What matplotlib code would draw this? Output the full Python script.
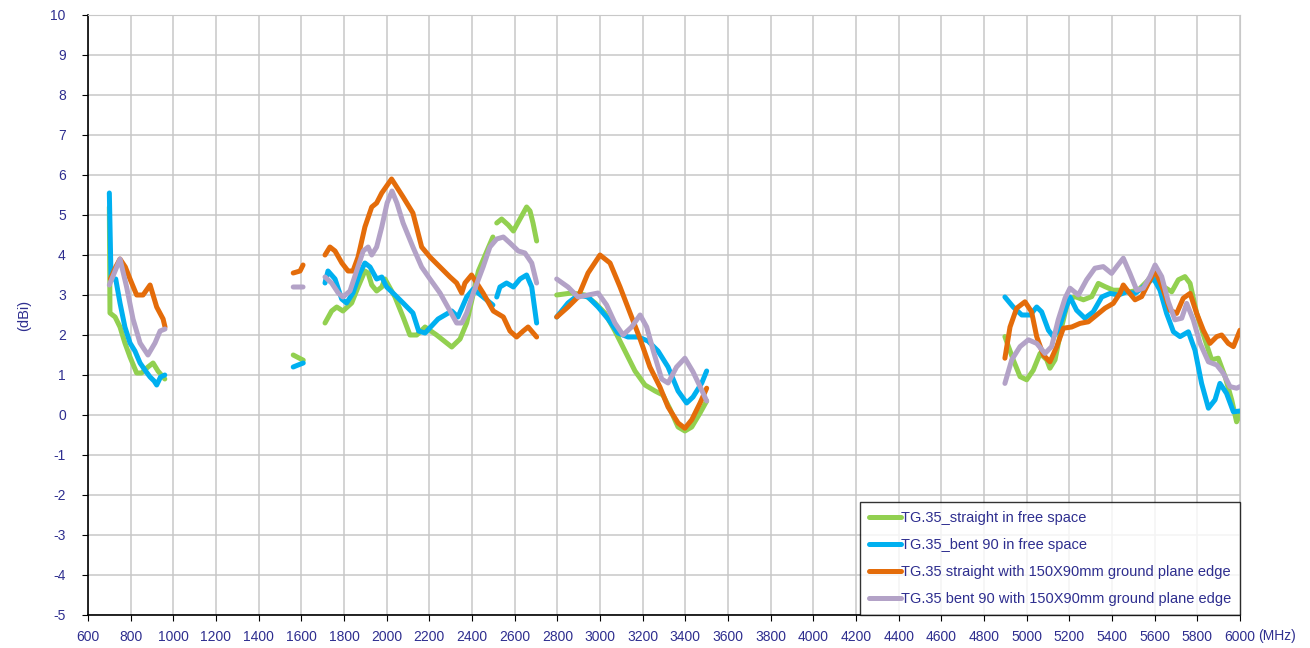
import numpy as np
import matplotlib
matplotlib.use("Agg")
import matplotlib.pyplot as plt

# gain vs frequency, 4 antenna setups; nan = gap between bands
nan = np.nan

green_f = [700, 703, 727, 750, 773, 797, 828, 851, 881, 905, 928, 960, nan,
           1562, 1609, nan,
           1711, 1742, 1766, 1795, 1836, 1866, 1898, 1913, 1930, 1953, 1977, 1992, 2039, 2077,
           2109, 2141, 2180, 2234, 2305, 2344, 2375, 2430, 2498, nan,
           2516, 2539, 2570, 2594, 2625, 2656, 2672, 2686, 2703, nan,
           2797, 2867, 2930, 2977, 3023, 3070, 3117, 3164, 3211, 3258, 3295, 3328, 3366, 3398,
           3430, 3469, 3500, nan,
           4898, 4937, 4969, 5000, 5031, 5063, 5094, 5109, 5133, 5164, 5195, 5227, 5266, 5305,
           5336, 5367, 5406, 5445, 5484, 5523, 5562, 5602, 5641, 5680, 5711, 5742, 5766, 5797,
           5836, 5867, 5898, 5930, 5961, 5984, 6000]
green_g = [5.2, 2.55, 2.45, 2.2, 1.8, 1.45, 1.05, 1.05, 1.2, 1.3, 1.1, 0.9, nan,
           1.5, 1.37, nan,
           2.3, 2.6, 2.7, 2.6, 2.8, 3.2, 3.6, 3.55, 3.25, 3.1, 3.2, 3.4, 2.95, 2.45,
           2.0, 2.0, 2.2, 2.0, 1.7, 1.9, 2.3, 3.6, 4.45, nan,
           4.8, 4.9, 4.75, 4.6, 4.9, 5.2, 5.1, 4.8, 4.35, nan,
           3.0, 3.05, 3.0, 2.8, 2.55, 2.1, 1.6, 1.1, 0.75, 0.6, 0.5, 0.15, -0.3, -0.4,
           -0.3, 0.05, 0.35, nan,
           1.96, 1.38, 0.96, 0.88, 1.12, 1.54, 1.38, 1.17, 1.38, 2.2, 2.88, 2.96, 2.88, 2.96,
           3.29, 3.21, 3.12, 3.12, 3.08, 3.12, 3.33, 3.58, 3.21, 3.08, 3.38, 3.46, 3.29, 2.54,
           1.88, 1.38, 1.42, 0.96, 0.38, -0.17, 0.02]

cyan_f = [700, 708, 730, 750, 773, 797, 820, 844, 870, 891, 910, 922, 940, 960, nan,
          1562, 1585, 1609, nan,
          1711, 1725, 1758, 1789, 1812, 1842, 1875, 1898, 1922, 1953, 1977, 2000, 2039, 2077,
          2123, 2150, 2180, 2241, 2305, 2334, 2375, 2406, 2452, 2498, nan,
          2516, 2531, 2562, 2594, 2625, 2656, 2680, 2703, nan,
          2797, 2850, 2897, 2944, 2991, 3038, 3084, 3131, 3178, 3225, 3272, 3319, 3366, 3406,
          3436, 3477, 3500, nan,
          4898, 4937, 4977, 5016, 5047, 5070, 5102, 5125, 5148, 5180, 5203, 5234, 5273, 5312,
          5352, 5391, 5430, 5469, 5508, 5547, 5594, 5625, 5656, 5688, 5719, 5758, 5789, 5820,
          5852, 5883, 5906, 5937, 5969, 6000]
cyan_g = [5.55, 3.4, 3.4, 2.8, 2.2, 1.8, 1.6, 1.3, 1.1, 0.95, 0.85, 0.75, 0.95, 1.0, nan,
          1.2, 1.25, 1.3, nan,
          3.3, 3.6, 3.4, 2.9, 2.8, 3.05, 3.55, 3.8, 3.7, 3.4, 3.45, 3.2, 3.0, 2.8,
          2.55, 2.1, 2.05, 2.4, 2.6, 2.45, 2.95, 3.15, 2.95, 2.75, nan,
          2.95, 3.2, 3.3, 3.2, 3.4, 3.5, 3.2, 2.3, nan,
          2.45, 2.8, 3.0, 2.95, 2.7, 2.4, 2.05, 1.95, 1.95, 1.85, 1.6, 1.2, 0.6, 0.3,
          0.45, 0.8, 1.1, nan,
          2.95, 2.7, 2.5, 2.5, 2.7, 2.58, 2.12, 1.96, 2.12, 2.62, 2.95, 2.62, 2.42, 2.58,
          2.95, 3.04, 3.0, 3.08, 3.04, 3.2, 3.42, 3.12, 2.54, 2.08, 1.96, 2.08, 1.62, 0.79,
          0.17, 0.38, 0.79, 0.54, 0.08, 0.1]

orange_f = [705, 730, 750, 775, 797, 828, 858, 891, 922, 952, 961, nan,
            1562, 1594, 1608, nan,
            1711, 1734, 1758, 1790, 1819, 1842, 1866, 1898, 1930, 1953, 1977, 2023, 2077, 2123,
            2164, 2203, 2250, 2297, 2328, 2352, 2367, 2398, 2452, 2500, 2547, 2578, 2609, 2640,
            2663, 2703, nan,
            2797, 2850, 2897, 2944, 3000, 3047, 3094, 3141, 3188, 3234, 3281, 3319, 3366, 3398,
            3430, 3469, 3500, nan,
            4898, 4922, 4953, 4992, 5023, 5047, 5078, 5109, 5141, 5172, 5211, 5250, 5289, 5328,
            5367, 5406, 5437, 5453, 5477, 5508, 5539, 5570, 5602, 5641, 5672, 5703, 5734, 5766,
            5797, 5828, 5859, 5891, 5914, 5945, 5969, 6000]
orange_g = [3.4, 3.7, 3.9, 3.7, 3.4, 3.0, 3.0, 3.25, 2.7, 2.4, 2.2, nan,
            3.55, 3.6, 3.75, nan,
            4.0, 4.2, 4.1, 3.8, 3.6, 3.6, 3.95, 4.7, 5.2, 5.3, 5.55, 5.9, 5.45, 5.05,
            4.2, 3.95, 3.7, 3.45, 3.3, 3.05, 3.3, 3.5, 3.05, 2.6, 2.45, 2.1, 1.95, 2.1,
            2.2, 1.95, nan,
            2.45, 2.7, 2.95, 3.55, 4.0, 3.8, 3.2, 2.55, 1.9, 1.2, 0.7, 0.2, -0.2, -0.33,
            -0.12, 0.3, 0.67, nan,
            1.42, 2.2, 2.67, 2.83, 2.58, 1.96, 1.5, 1.33, 1.71, 2.17, 2.2, 2.29, 2.33, 2.5,
            2.67, 2.79, 3.04, 3.25, 3.08, 2.88, 2.96, 3.29, 3.62, 3.12, 2.62, 2.54, 2.92, 3.04,
            2.54, 2.12, 1.79, 1.96, 2.0, 1.79, 1.71, 2.12]

lav_f = [700, 727, 750, 781, 811, 844, 881, 914, 938, 961, nan,
         1562, 1608, nan,
         1711, 1742, 1773, 1795, 1828, 1859, 1890, 1913, 1930, 1953, 1977, 2002, 2025, 2048,
         2077, 2123, 2164, 2203, 2250, 2297, 2328, 2352, 2375, 2406, 2452, 2484, 2516, 2547,
         2578, 2617, 2648, 2680, 2703, nan,
         2797, 2850, 2897, 2944, 2991, 3031, 3070, 3108, 3148, 3188, 3219, 3250, 3289, 3319,
         3359, 3398, 3436, 3477, 3500, nan,
         4898, 4930, 4969, 5008, 5047, 5086, 5117, 5148, 5180, 5203, 5242, 5281, 5320, 5359,
         5398, 5422, 5453, 5484, 5516, 5547, 5578, 5602, 5633, 5664, 5695, 5727, 5750, 5781,
         5813, 5852, 5891, 5922, 5953, 5984, 6000]
lav_g = [3.25, 3.6, 3.9, 3.2, 2.4, 1.8, 1.5, 1.8, 2.1, 2.15, nan,
         3.2, 3.2, nan,
         3.45, 3.3, 3.05, 2.95, 3.1, 3.6, 4.1, 4.2, 4.0, 4.2, 4.7, 5.3, 5.6, 5.3,
         4.8, 4.2, 3.7, 3.4, 3.05, 2.6, 2.3, 2.3, 2.55, 3.05, 3.7, 4.2, 4.4, 4.45,
         4.3, 4.1, 4.05, 3.8, 3.3, nan,
         3.4, 3.2, 2.95, 3.0, 3.05, 2.75, 2.3, 2.0, 2.2, 2.5, 2.2, 1.6, 0.9, 0.8,
         1.2, 1.42, 1.08, 0.62, 0.35, nan,
         0.79, 1.38, 1.71, 1.88, 1.79, 1.54, 1.71, 2.38, 2.92, 3.17, 3.0, 3.38, 3.67, 3.71,
         3.54, 3.71, 3.92, 3.54, 3.12, 3.17, 3.46, 3.75, 3.46, 2.83, 2.38, 2.42, 2.79, 2.38,
         1.79, 1.33, 1.25, 1.04, 0.71, 0.67, 0.71]

labels = ["TG.35_straight in free space",
          "TG.35_bent 90 in free space",
          "TG.35 straight with 150X90mm ground plane edge",
          "TG.35 bent 90 with 150X90mm ground plane edge"]
colors = ["#92D050", "#00B0F0", "#E46C0A", "#B3A2C7"]
navy = "#2E2E8F"

plt.rcParams['font.family'] = ['Liberation Sans', 'DejaVu Sans']
plt.rcParams['axes.unicode_minus'] = False

fig = plt.figure(figsize=(13.1, 6.48), dpi=100)
ax = fig.add_axes([88 / 1310, 1 - 615 / 648, (1240 - 88) / 1310, 600 / 648])

for f, g, c, lab in zip([green_f, cyan_f, orange_f, lav_f],
                        [green_g, cyan_g, orange_g, lav_g], colors, labels):
    ax.plot(f, g, color=c, lw=3.6, label=lab,
            solid_joinstyle='round', solid_capstyle='round')

ax.set_xlim(600, 6000)
ax.set_ylim(-5, 10)
ax.set_xticks(np.arange(600, 6001, 200))
ax.set_yticks(np.arange(-5, 11, 1))
ax.grid(True, color="#C8C8C8", lw=1.1)
ax.set_axisbelow(True)
for s in ['top', 'right']:
    ax.spines[s].set_color("#C8C8C8")
for s in ['left', 'bottom']:
    ax.spines[s].set_color("black")
    ax.spines[s].set_linewidth(1.2)
ax.tick_params(direction='out', length=4, colors='black', labelcolor=navy, labelsize=10)
ax.tick_params(axis='y', pad=12)
ax.tick_params(axis='x', pad=7)
ax.text(1.0155, -0.0355, "(MHz)", transform=ax.transAxes, color=navy, fontsize=10,
        ha='left', va='center')
ax.set_ylabel("(dBi)", color=navy, fontsize=10.5, labelpad=14)

leg = ax.legend(loc='lower right', borderaxespad=0, fontsize=10.5, handlelength=2.2,
                handletextpad=0.0, labelspacing=0.9, frameon=True, fancybox=False,
                borderpad=0.6)
leg.get_frame().set_edgecolor("black")
leg.get_frame().set_linewidth(1.0)
for t in leg.get_texts():
    t.set_color(navy)

fig.savefig("out.png", dpi=100)
